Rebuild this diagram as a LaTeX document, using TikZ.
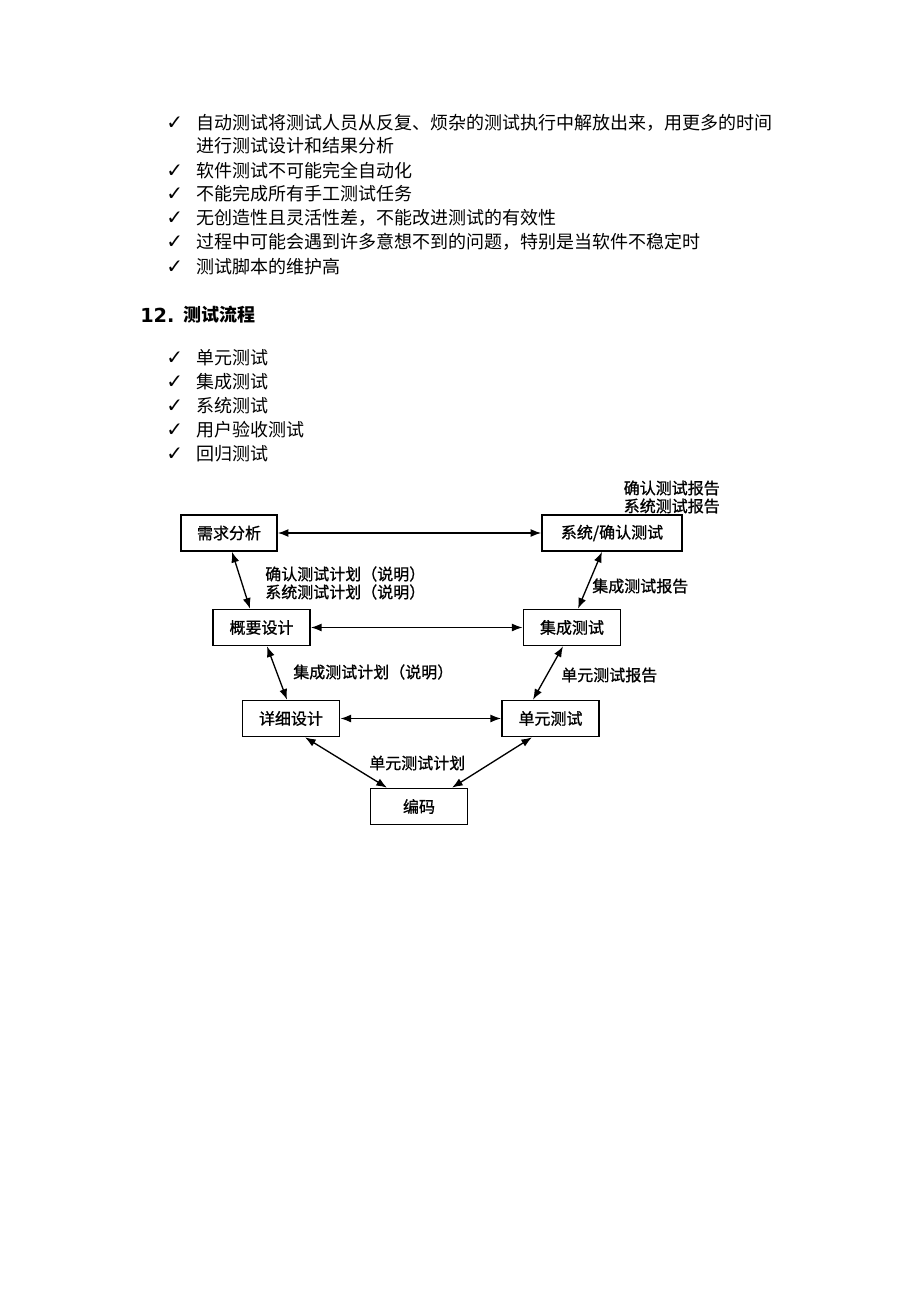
\documentclass[tikz,border=0pt]{standalone}
\usepackage{fontspec}
\setmainfont{Noto Sans CJK SC}
\newfontfamily\tickfont{DejaVu Sans}
\newfontfamily\diafont{Noto Sans CJK SC}[FakeBold=1]
\usetikzlibrary{arrows.meta,calc}
\tikzset{
  box/.style={draw, line width=1.2pt, minimum width=73pt, minimum height=27pt, inner sep=0pt,
    font=\fontsize{12pt}{14pt}\selectfont\diafont},
  lbl/.style={inner sep=0pt, font=\fontsize{12pt}{14pt}\selectfont\diafont},
  item/.style={anchor=west, inner sep=0pt, font=\fontsize{13.5pt}{16pt}\selectfont},
  tick/.style={anchor=west, inner sep=0pt, font=\fontsize{15pt}{16pt}\selectfont\tickfont\bfseries},
  tip/.style={{Latex[length=8pt,width=6pt]}-{Latex[length=8pt,width=6pt]}, line width=1pt},
}
\begin{document}
\begin{tikzpicture}[x=0.75pt,y=-0.75pt]
  \useasboundingbox (0,0) rectangle (920,1302);
  \draw
    (166,123) node[tick] (t1){✓}
    (166,171) node[tick] (t2){✓}
    (166,194) node[tick] (t3){✓}
    (166,218) node[tick] (t4){✓}
    (166,242) node[tick] (t5){✓}
    (166,267) node[tick] (t6){✓}
    (196,123) node[item] (i1){自动测试将测试人员从反复、烦杂的测试执行中解放出来，用更多的时间}
    (196,146) node[item] (i1b){进行测试设计和结果分析}
    (196,171) node[item] (i2){软件测试不可能完全自动化}
    (196,194) node[item] (i3){不能完成所有手工测试任务}
    (196,218) node[item] (i4){无创造性且灵活性差，不能改进测试的有效性}
    (196,242) node[item] (i5){过程中可能会遇到许多意想不到的问题，特别是当软件不稳定时}
    (196,267) node[item] (i6){测试脚本的维护高};
  \draw
    (140,315) node[anchor=west, inner sep=0pt, font=\fontsize{14.5pt}{16pt}\selectfont\tickfont\bfseries] (num){12.}
    (183,315) node[anchor=west, inner sep=0pt, font=\fontsize{13.5pt}{16pt}\selectfont\bfseries] (head){测试流程};
  \draw
    (166,358) node[tick] (s1){✓}
    (166,382) node[tick] (s2){✓}
    (166,406) node[tick] (s3){✓}
    (166,430) node[tick] (s4){✓}
    (166,454) node[tick] (s5){✓}
    (196,358) node[item] (k1){单元测试}
    (196,382) node[item] (k2){集成测试}
    (196,406) node[item] (k3){系统测试}
    (196,430) node[item] (k4){用户验收测试}
    (196,454) node[item] (k5){回归测试};
  \draw
    (229,533) node[box, minimum width=72pt] (req){需求分析}
    (612,533) node[box, minimum width=105pt] (sys){系统/确认测试}
    (261.5,627.5) node[box] (sum){概要设计}
    (572,627.5) node[box] (int){集成测试}
    (291,718.5) node[box] (det){详细设计}
    (550.5,718.5) node[box] (unit){单元测试}
    (419,806.5) node[box] (code){编码};
  \draw
    (720,488) node[lbl, anchor=east] (r1){确认测试报告}
    (720,506) node[lbl, anchor=east] (r2){系统测试报告}
    (265,574) node[lbl, anchor=west] (p1){确认测试计划（说明）}
    (265,592) node[lbl, anchor=west] (p2){系统测试计划（说明）}
    (592,586) node[lbl, anchor=west] (r3){集成测试报告}
    (293,672) node[lbl, anchor=west] (p3){集成测试计划（说明）}
    (561,675) node[lbl, anchor=west] (r4){单元测试报告}
    (369,763) node[lbl, anchor=west] (p4){单元测试计划};
  \begin{scope}[tip]
    \draw (req) to (sys);
    \draw (sum) to (int);
    \draw (det) to (unit);
    \draw ($(req.south)+(3,0)$) to ($(sum.north)+(-11.5,0)$);
    \draw ($(sys.south)+(-10,0)$) to ($(int.north)+(6,0)$);
    \draw ($(sum.south)+(5.5,0)$) to ($(det.north)+(-4,0)$);
    \draw ($(int.south)+(-9,0)$) to ($(unit.north)+(-17.5,0)$);
    \draw ($(det.south)+(14,0)$) to ($(code.north)+(-32,0)$);
    \draw ($(unit.south)+(-18.5,0)$) to ($(code.north)+(33,0)$);
  \end{scope}
\end{tikzpicture}
\end{document}
